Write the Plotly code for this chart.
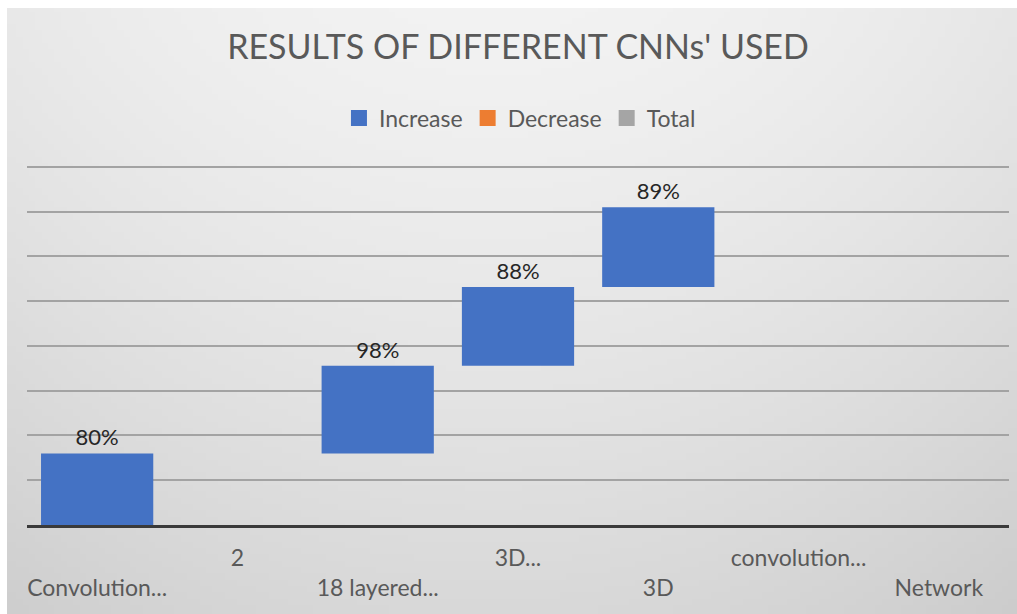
import base64, zlib, struct
import plotly.graph_objects as go

# ---------------- data ----------------
categories = ["Convolution...", "2", "18 layered...", "3D...", "3D", "convolution...", "Network"]
increase = [80, None, 98, 88, 89, None, None]
decrease = [None] * 7
total = [None] * 7
series_names = ["Increase", "Decrease", "Total"]
series_colors = ["#4472C4", "#ED7D31", "#A5A5A5"]
grid_values = [50, 100, 150, 200, 250, 300, 350, 400]
title_text = "RESULTS OF DIFFERENT CNNs' USED"

# ---------------- figure geometry ----------------
W, H = 1017, 614
ML, MR, MT, MB = 27, 8, 158, 89
Y_MAX = 410
FONT = "Lato"

# running base for waterfall increases
bases, labels = [], []
run = 0
for v in increase:
    bases.append(run if v is not None else None)
    labels.append(f"{v}%" if v is not None else "")
    run += v or 0

# staggered two-row category labels
ticktext = [c if i % 2 == 1 else "<br>" + c for i, c in enumerate(categories)]

# ---------------- background gradient as small PNG ----------------
def gradient_png(w, h):
    rows = []
    for j in range(h):
        yf = j / (h - 1)
        row = bytearray([0])
        for i in range(w):
            xf = i / (w - 1)
            v = 242 - 26 * (yf ** 1.3) - 12 * ((xf - 0.48) / 0.52) ** 2
            row.append(max(0, min(255, int(round(v)))))
        rows.append(bytes(row))
    raw = b"".join(rows)

    def chunk(t, d):
        return struct.pack(">I", len(d)) + t + d + struct.pack(">I", zlib.crc32(t + d) & 0xffffffff)

    png = (b"\x89PNG\r\n\x1a\n"
           + chunk(b"IHDR", struct.pack(">IIBBBBB", w, h, 8, 0, 0, 0, 0))
           + chunk(b"IDAT", zlib.compress(raw, 9))
           + chunk(b"IEND", b""))
    return "data:image/png;base64," + base64.b64encode(png).decode()

pw, ph = W - ML - MR, H - MT - MB
img_left, img_top = 7, 8
bg_img = dict(
    source=gradient_png(160, 96), xref="paper", yref="paper",
    x=(img_left - ML) / pw, y=(H - MB - img_top) / ph,
    sizex=(W - img_left) / pw, sizey=(H - img_top) / ph,
    xanchor="left", yanchor="top", sizing="stretch", layer="below",
)

fig = go.Figure()
fig.add_trace(go.Bar(
    name="Increase", x=categories, y=increase, base=bases, showlegend=False,
    marker=dict(color=series_colors[0], line=dict(width=0)),
    text=labels, textposition="outside", cliponaxis=False, constraintext="none",
    textfont=dict(family=FONT, size=22, color="#262626"),
))
fig.add_trace(go.Bar(name="Decrease", x=categories, y=decrease, showlegend=False,
                     marker=dict(color=series_colors[1])))
fig.add_trace(go.Bar(name="Total", x=categories, y=total, showlegend=False,
                     marker=dict(color=series_colors[2])))
# legend keys (square swatches)
for nm, col in zip(series_names, series_colors):
    fig.add_trace(go.Scatter(name=nm, x=[None], y=[None], mode="markers",
                             marker=dict(symbol="square", size=16, color=col)))

fig.update_layout(
    width=W, height=H,
    margin=dict(l=ML, r=MR, t=MT, b=MB, pad=0),
    paper_bgcolor="white", plot_bgcolor="rgba(0,0,0,0)",
    images=[bg_img],
    barmode="overlay", bargap=0.2,
    font=dict(family=FONT, color="#595959"),
    title=dict(text=title_text, x=0.5, xref="paper", xanchor="center",
               y=1 - 47 / H, yref="container", yanchor="middle",
               font=dict(family=FONT, size=34, color="#595959")),
    legend=dict(orientation="h", x=0.502, xanchor="center", y=(H - MB - 118) / ph, yanchor="middle",
                font=dict(family=FONT, size=23, color="#595959"), bgcolor="rgba(0,0,0,0)",
                itemclick=False),
    showlegend=True,
)
fig.update_xaxes(type="category", categoryorder="array", categoryarray=categories,
                 range=[-0.5, len(categories) - 0.5],
                 tickvals=categories, ticktext=ticktext,
                 tickfont=dict(family=FONT, size=23, color="#595959"),
                 showline=True, linecolor="#3a3a3a", linewidth=2.5, ticks="",
                 showgrid=False, zeroline=False, ticklabelstandoff=11)
fig.update_yaxes(range=[0, Y_MAX], tickvals=grid_values,
                 showticklabels=False, ticks="",
                 showgrid=True, gridcolor="#a3a3a3", gridwidth=1.5, zeroline=False)

fig.write_html("out.html")
